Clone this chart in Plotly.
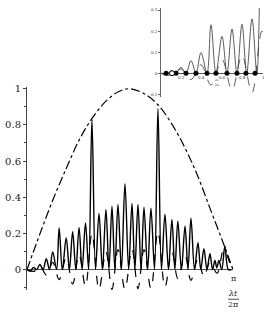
import plotly.graph_objects as go

# ---- data ----
# solid curve: alternating zeros and peaks
solid_x = [0, 0.05, 0.10, 0.147, 0.196, 0.245, 0.294, 0.343, 0.392, 0.451, 0.49, 0.539,
           0.598, 0.647, 0.696, 0.745, 0.794, 0.84, 0.892, 0.94, 0.99, 1.045, 1.098, 1.15,
           1.204, 1.25, 1.296, 1.34, 1.387, 1.44, 1.494, 1.55, 1.601, 1.645, 1.692, 1.74,
           1.784, 1.84, 1.89, 1.945, 1.997, 2.05, 2.104, 2.157, 2.21, 2.255, 2.30, 2.355,
           2.41, 2.455, 2.50, 2.555, 2.607, 2.65, 2.698, 2.745, 2.79, 2.83, 2.866, 2.895,
           2.927, 2.97, 3.018, 3.07, 3.12]
solid_y = [0, -0.008, 0.012, 0, 0.028, 0, 0.06, 0, 0.098, 0, 0.23, 0,
           0.175, 0, 0.21, 0, 0.232, 0, 0.258, 0, 0.83, 0, 0.31, 0,
           0.333, 0, 0.35, 0, 0.36, 0, 0.475, 0, 0.366, 0, 0.36, 0,
           0.345, 0, 0.34, 0, 0.89, 0, 0.306, 0, 0.277, 0, 0.268, 0,
           0.24, 0, 0.284, 0, 0.148, 0, 0.115, 0, 0.088, 0, 0.05, 0.01,
           0.05, 0, 0.13, 0, 0]

# dashed curve
dash_x = [0, 0.108, 0.196, 0.294, 0.392, 0.49, 0.598, 0.696, 0.794, 0.892, 0.99, 1.098,
          1.204, 1.296, 1.387, 1.494, 1.601, 1.692, 1.784, 1.89, 1.997, 2.104, 2.21, 2.30,
          2.41, 2.50, 2.607, 2.698, 2.79, 2.9, 3.0, 3.12]
dash_y = [0, -0.01, 0.02, -0.03, 0.04, -0.056, 0.065, -0.08, 0.084, -0.093, 0.2, -0.11,
          0.1, -0.11, 0.11, -0.11, 0.115, -0.105, 0.11, -0.105, 0.21, -0.097, 0.1, -0.05,
          0.08, -0.06, 0.06, -0.04, 0.04, -0.02, 0.11, 0]

# dash-dot envelope
env_x = [0, 0.2, 0.4, 0.6, 0.8, 1.0, 1.2, 1.4, 1.57, 1.8, 2.0, 2.2, 2.4, 2.6, 2.8, 3.0, 3.1416]
env_y = [0, 0.2, 0.39, 0.56, 0.72, 0.84, 0.93, 0.985, 1.0, 0.97, 0.91, 0.81, 0.68, 0.52, 0.33, 0.14, 0]

# inset markers on the zero line
dot_x = [0.05, 0.147, 0.245, 0.343, 0.451, 0.539, 0.647, 0.745, 0.833, 0.922]
open_x = [0.108]

main_ticks = [0, 0.2, 0.4, 0.6, 0.8, 1]
main_ticktext = ["0", "0.2", "0.4", "0.6", "0.8", "1"]
inset_yticks = [-0.1, 0, 0.1, 0.2, 0.3]
inset_yticktext = ["-0.1", "0", "0.1", "0.2", "0.3"]
inset_xticks = [0.2, 0.4, 0.6, 0.8, 1.0]
inset_xticktext = ["0.2", "0.4", "0.6", "0.8", "1"]

SERIF = "DejaVu Serif"
W, H = 265, 318

fig = go.Figure()

# main plot
fig.add_trace(go.Scatter(x=env_x, y=env_y, mode="lines", line=dict(color="black", width=1.2, dash="dashdot", shape="spline"),
                         xaxis="x", yaxis="y", hoverinfo="skip"))
fig.add_trace(go.Scatter(x=dash_x, y=dash_y, mode="lines", line=dict(color="black", width=1.2, dash="dash", shape="spline"),
                         xaxis="x", yaxis="y", hoverinfo="skip"))
fig.add_trace(go.Scatter(x=solid_x, y=solid_y, mode="lines", line=dict(color="black", width=1.4, shape="spline"),
                         xaxis="x", yaxis="y", hoverinfo="skip"))

# inset
fig.add_trace(go.Scatter(x=dash_x, y=dash_y, mode="lines", line=dict(color="#333", width=0.8, dash="dash", shape="spline"),
                         xaxis="x2", yaxis="y2", hoverinfo="skip"))
fig.add_trace(go.Scatter(x=solid_x, y=solid_y, mode="lines", line=dict(color="#333", width=0.8, shape="spline"),
                         xaxis="x2", yaxis="y2", hoverinfo="skip"))
fig.add_trace(go.Scatter(x=dot_x, y=[0] * len(dot_x), mode="markers", marker=dict(color="black", size=5),
                         xaxis="x2", yaxis="y2", hoverinfo="skip"))
fig.add_trace(go.Scatter(x=open_x, y=[0] * len(open_x), mode="markers",
                         marker=dict(color="white", size=5, line=dict(color="black", width=1)),
                         xaxis="x2", yaxis="y2", hoverinfo="skip"))

main_xdom = [27 / W, 233 / W]
main_ydom = [1 - 290 / H, 1 - 84 / H]
ins_xdom = [161 / W, 263 / W]
ins_ydom = [1 - 94 / H, 1 - 4 / H]

fig.update_layout(
    width=W, height=H, autosize=False,
    margin=dict(l=0, r=0, t=0, b=0),
    paper_bgcolor="white", plot_bgcolor="rgba(0,0,0,0)",
    showlegend=False,
    font=dict(family=SERIF, color="#222"),
    xaxis=dict(domain=main_xdom, range=[0, 3.1416], showline=False, showgrid=False, zeroline=False,
               showticklabels=False, ticks="", fixedrange=True),
    yaxis=dict(domain=main_ydom, range=[-0.115, 1.01], showline=True, linecolor="#444", linewidth=1,
               showgrid=False, zeroline=True, zerolinecolor="#555", zerolinewidth=1.2,
               tickvals=main_ticks, ticktext=main_ticktext, ticks="outside", ticklen=3, tickcolor="#444",
               tickfont=dict(family=SERIF, size=10, color="#222"),
               minor=dict(dtick=0.1, ticks="outside", ticklen=2, tickcolor="#444"),
               anchor="x"),
    xaxis2=dict(domain=ins_xdom, range=[0, 1.0], showline=False, showgrid=False, zeroline=False,
                showticklabels=False, ticks="", anchor="y2"),
    yaxis2=dict(domain=ins_ydom, range=[-0.112, 0.31], showline=True, linecolor="#666", linewidth=0.8,
                showgrid=False, zeroline=True, zerolinecolor="#555", zerolinewidth=1,
                tickvals=inset_yticks, ticktext=inset_yticktext, ticks="outside", ticklen=2, tickcolor="#666",
                tickfont=dict(family=SERIF, size=4, color="#333"), anchor="x2"),
)

annotations = []
for xv, txt in zip(inset_xticks, inset_xticktext):
    annotations.append(dict(x=xv, y=0, xref="x2", yref="y2", text=txt, showarrow=False,
                            xanchor="center", yanchor="middle",
                            yshift=-4, font=dict(family=SERIF, size=4, color="#333")))
annotations.append(dict(x=0.55, y=0, xref="x2", yref="y2", text="<i>λt</i><br>2π", showarrow=False,
                        xanchor="center", yanchor="middle",
                        yshift=-9, font=dict(family=SERIF, size=3.5, color="#333")))
annotations.append(dict(x=3.1416, y=1 - 278 / H, xref="x", yref="paper", text="π", showarrow=False,
                        xanchor="center", yanchor="middle",
                        font=dict(family=SERIF, size=8, color="#222")))
annotations.append(dict(x=3.1416, y=1 - 293.5 / H, xref="x", yref="paper", text="<i>λt</i>", showarrow=False,
                        xanchor="center", yanchor="middle",
                        font=dict(family=SERIF, size=8, color="#222")))
annotations.append(dict(x=3.1416, y=1 - 304.5 / H, xref="x", yref="paper", text="2π", showarrow=False,
                        xanchor="center", yanchor="middle",
                        font=dict(family=SERIF, size=8, color="#222")))
fig.update_layout(annotations=annotations)

fig.add_shape(type="line", xref="paper", yref="paper",
              x0=228 / W, x1=239 / W, y0=1 - 299 / H, y1=1 - 299 / H,
              line=dict(color="#222", width=0.8))

fig.write_html("out.html", config={"displayModeBar": False},
               post_script="document.body.style.margin='0';document.body.style.padding='0';")
